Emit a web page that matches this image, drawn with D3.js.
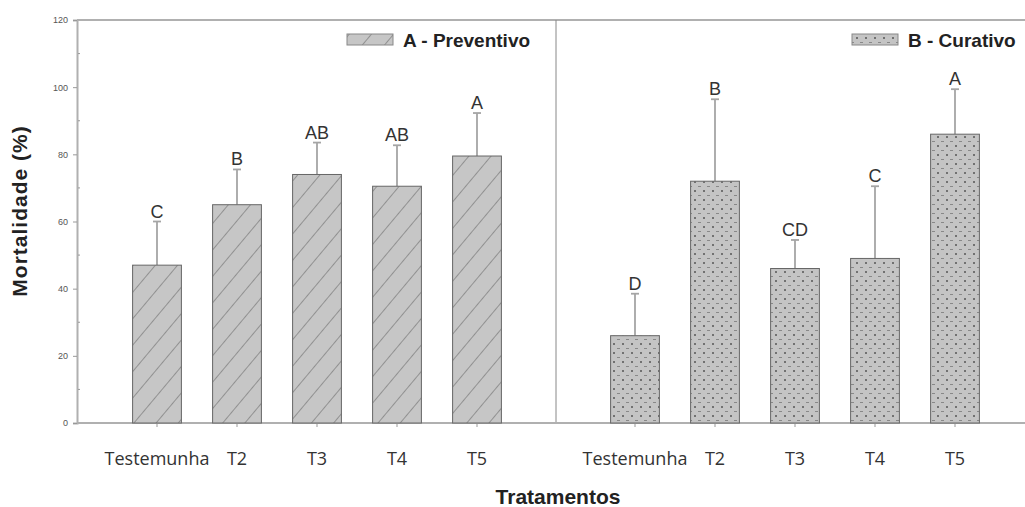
<!DOCTYPE html>
<html>
<head>
<meta charset="utf-8">
<script src="https://cdn.jsdelivr.net/npm/d3@7"></script>
<style>
body { margin: 0; background: #fff; }
svg { display: block; }
</style>
</head>
<body>
<svg id="chart" width="1025" height="507"></svg>
<script>
// data
var categories = ["Testemunha", "T2", "T3", "T4", "T5"];
var prevMean = [47, 65, 74, 70.5, 79.5];
var prevErr = [60, 75.5, 83.5, 82.7, 92.3];
var prevLetters = ["C", "B", "AB", "AB", "A"];
var curMean = [26, 72, 46, 49, 86];
var curErr = [38.5, 96.4, 54.5, 70.5, 99.4];
var curLetters = ["D", "B", "CD", "C", "A"];
var yTicks = [0, 20, 40, 60, 80, 100, 120];

var svg = d3.select("#chart");
var pLeft = 77, pRight = 1025, pTop = 20, pBottom = 423, pMid = 556;
var axisCol = "#b0b0b0";
var arial = "Arial, 'Liberation Sans', sans-serif";

var y = d3.scaleLinear().domain([0, 120]).range([pBottom, pTop]);

var xA = d3.scaleBand().domain(categories).range([117, 517]).paddingInner(0.39).paddingOuter(0.195);
var xB = d3.scaleBand().domain(categories).range([595, 995]).paddingInner(0.39).paddingOuter(0.195);

// patterns
var defs = svg.append("defs");
var hatch = defs.append("pattern")
    .attr("id", "hatch")
    .attr("patternUnits", "userSpaceOnUse")
    .attr("width", 17).attr("height", 17)
    .attr("patternTransform", "rotate(40)");
hatch.append("rect").attr("width", 17).attr("height", 17).attr("fill", "#c6c6c6");
hatch.append("line").attr("x1", 0).attr("y1", 0).attr("x2", 0).attr("y2", 17)
    .attr("stroke", "#6e6e6e").attr("stroke-width", 1.2);

var dots = defs.append("pattern")
    .attr("id", "dots")
    .attr("patternUnits", "userSpaceOnUse")
    .attr("width", 9).attr("height", 9);
dots.append("rect").attr("width", 9).attr("height", 9).attr("fill", "#c4c4c4");
dots.append("circle").attr("cx", 2).attr("cy", 2).attr("r", 1).attr("fill", "#555");
dots.append("line").attr("x1", 5).attr("y1", 6.5).attr("x2", 8).attr("y2", 6.5)
    .attr("stroke", "#888").attr("stroke-width", 1);

// frame
svg.append("line").attr("x1", pLeft).attr("x2", pRight).attr("y1", pTop).attr("y2", pTop)
    .attr("stroke", axisCol).attr("stroke-width", 2);
svg.append("line").attr("x1", pMid).attr("x2", pMid).attr("y1", pTop).attr("y2", pBottom)
    .attr("stroke", "#888").attr("stroke-width", 1);

// y axis
var yAxis = svg.append("g").attr("transform", "translate(" + pLeft + ",0)")
    .call(d3.axisLeft(y).tickValues(yTicks).tickSize(4).tickPadding(5));
yAxis.select(".domain").attr("stroke", axisCol).attr("stroke-width", 2);
yAxis.selectAll(".tick line").attr("stroke", "#999");
yAxis.selectAll("text").attr("font-family", arial)
    .attr("font-size", 9).attr("fill", "#555");
svg.append("g").attr("transform", "translate(" + pLeft + ",0)")
    .selectAll("line").data(d3.range(10, 120, 20)).enter().append("line")
    .attr("x1", 1).attr("x2", 3)
    .attr("y1", function(d) { return y(d); }).attr("y2", function(d) { return y(d); })
    .attr("stroke", "#999");

// x axes
[xA, xB].forEach(function(x) {
    var g = svg.append("g").attr("transform", "translate(0," + pBottom + ")")
        .call(d3.axisBottom(x).tickSize(4).tickPadding(25));
    g.select(".domain").remove();
    g.selectAll(".tick line").attr("stroke", "#999");
    g.selectAll("text").attr("font-family", "'Open Sans', sans-serif")
        .attr("font-size", 18).attr("fill", "#333");
});
svg.append("line").attr("x1", pLeft).attr("x2", pRight).attr("y1", pBottom).attr("y2", pBottom)
    .attr("stroke", axisCol).attr("stroke-width", 2);

function panel(x, mean, err, letters, fill) {
    var g = svg.append("g");
    var rows = categories.map(function(c, i) {
        return { cat: c, mean: mean[i], err: err[i], letter: letters[i] };
    });
    g.selectAll(".err").data(rows).enter().append("line")
        .attr("x1", function(d) { return x(d.cat) + x.bandwidth() / 2; })
        .attr("x2", function(d) { return x(d.cat) + x.bandwidth() / 2; })
        .attr("y1", function(d) { return y(d.mean); })
        .attr("y2", function(d) { return y(d.err); })
        .attr("stroke", "#a5a5a5").attr("stroke-width", 1.8);
    g.selectAll(".cap").data(rows).enter().append("line")
        .attr("x1", function(d) { return x(d.cat) + x.bandwidth() / 2 - 4; })
        .attr("x2", function(d) { return x(d.cat) + x.bandwidth() / 2 + 4; })
        .attr("y1", function(d) { return y(d.err); })
        .attr("y2", function(d) { return y(d.err); })
        .attr("stroke", "#a5a5a5").attr("stroke-width", 1.8);
    g.selectAll(".bar").data(rows).enter().append("rect")
        .attr("x", function(d) { return x(d.cat); })
        .attr("width", x.bandwidth())
        .attr("y", function(d) { return y(d.mean); })
        .attr("height", function(d) { return y(0) - y(d.mean); })
        .attr("fill", fill)
        .attr("stroke", "#666").attr("stroke-width", 1);
    g.selectAll(".letter").data(rows).enter().append("text")
        .attr("x", function(d) { return x(d.cat) + x.bandwidth() / 2; })
        .attr("y", function(d) { return y(d.err) - 4; })
        .attr("text-anchor", "middle")
        .attr("font-family", arial)
        .attr("font-size", 18).attr("fill", "#333")
        .text(function(d) { return d.letter; });
}
panel(xA, prevMean, prevErr, prevLetters, "url(#hatch)");
panel(xB, curMean, curErr, curLetters, "url(#dots)");

// legends
function legend(x0, fill, label) {
    svg.append("rect").attr("x", x0).attr("y", 34).attr("width", 46).attr("height", 11)
        .attr("fill", fill).attr("stroke", "#888");
    svg.append("text").attr("x", x0 + 56).attr("y", 47)
        .attr("font-family", arial)
        .attr("font-weight", "bold").attr("font-size", 19).attr("fill", "#222")
        .text(label);
}
legend(347, "url(#hatch)", "A - Preventivo");
legend(852, "url(#dots)", "B - Curativo");

// axis titles
svg.append("text")
    .attr("transform", "translate(27,211) rotate(-90)")
    .attr("text-anchor", "middle")
    .attr("font-family", arial)
    .attr("font-weight", "bold").attr("font-size", 21).attr("letter-spacing", 1)
    .attr("fill", "#222")
    .text("Mortalidade (%)");
svg.append("text")
    .attr("x", 558).attr("y", 504)
    .attr("text-anchor", "middle")
    .attr("font-family", arial)
    .attr("font-weight", "bold").attr("font-size", 21).attr("fill", "#222")
    .text("Tratamentos");
</script>
</body>
</html>
